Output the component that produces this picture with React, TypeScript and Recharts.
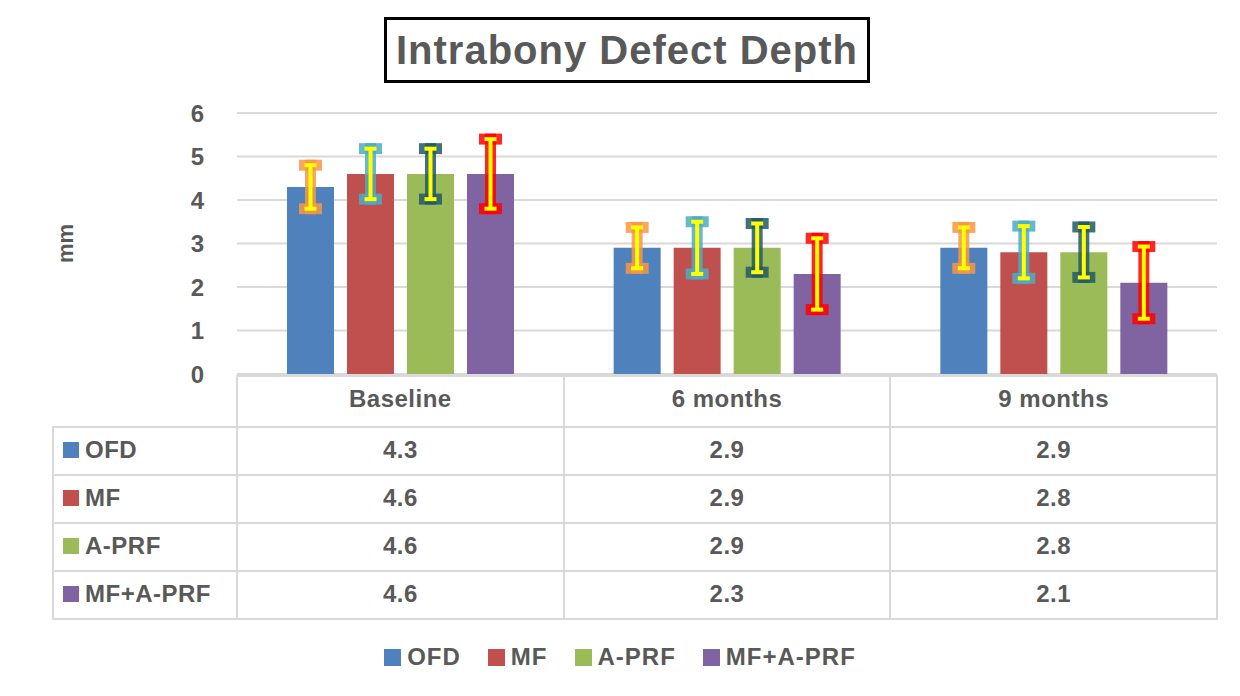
import React from 'react';
import { BarChart, Bar, XAxis, YAxis, CartesianGrid, ErrorBar, Legend } from 'recharts';

const categories = ['Baseline', '6 months', '9 months'];
const seriesNames = ['OFD', 'MF', 'A-PRF', 'MF+A-PRF'];
const ofd = [4.3, 2.9, 2.9];
const mf = [4.6, 2.9, 2.8];
const aprf = [4.6, 2.9, 2.8];
const mfAprf = [4.6, 2.3, 2.1];
// error bar half-lengths
const ofdErr = [0.5, 0.47, 0.47];
const mfErr = [0.58, 0.6, 0.6];
const aprfErr = [0.58, 0.56, 0.58];
const mfAprfErr = [0.8, 0.82, 0.83];
const yTicks = [0, 1, 2, 3, 4, 5, 6];

const COLORS = ['#4f81bd', '#c0504d', '#9bbb59', '#8064a2'];
const GLOW = ['#f79646', '#4bacc6', '#215968', '#ff0000'];
const TEXT = '#595959';
const LINE = '#d9d9d9';
const FONT = "'Liberation Sans', Arial, sans-serif";

const values = [ofd, mf, aprf, mfAprf];
const errors = [ofdErr, mfErr, aprfErr, mfAprfErr];

const data = categories.map((name, c) => {
  const row: Record<string, any> = { name };
  values.forEach((v, s) => {
    row[`s${s}`] = v[c];
    row[`e${s}`] = errors[s][c];
  });
  return row;
});

// plot box in page pixels
const PLOT_LEFT = 237;
const PLOT_RIGHT = 1217;
const TABLE_LEFT = 52;
const HEADER_TOP = 375;
const ROW_TOPS = [426, 474, 522, 570];
const ROW_H = 48;
const TABLE_BOTTOM = 618;
const COL_W = (PLOT_RIGHT - PLOT_LEFT) / categories.length;

const labelStyle: React.CSSProperties = {
  fontFamily: FONT,
  fontWeight: 700,
  fontSize: 24,
  color: TEXT,
  letterSpacing: 0.5,
};

// keep series order (OFD, MF, A-PRF, MF+A-PRF) in the legend
function renderLegend() {
  return (
    <div style={{ display: 'flex', justifyContent: 'center', gap: 27 }}>
      {seriesNames.map((n, i) => (
        <div key={n} style={{ display: 'flex', alignItems: 'center', ...labelStyle, letterSpacing: 1 }}>
          <span style={{ width: 17, height: 17, background: COLORS[i], display: 'inline-block', marginRight: 6 }} />
          {n}
        </div>
      ))}
    </div>
  );
}

function DataTable() {
  const lines: React.ReactNode[] = [];
  // horizontal lines
  lines.push(<div key="h0" style={{ position: 'absolute', left: PLOT_LEFT, top: HEADER_TOP, width: PLOT_RIGHT - PLOT_LEFT, height: 2, background: LINE }} />);
  ROW_TOPS.concat([TABLE_BOTTOM]).forEach((y, i) => {
    lines.push(<div key={`h${i + 1}`} style={{ position: 'absolute', left: TABLE_LEFT, top: y, width: PLOT_RIGHT - TABLE_LEFT, height: 2, background: LINE }} />);
  });
  // vertical lines
  lines.push(<div key="v0" style={{ position: 'absolute', left: TABLE_LEFT, top: ROW_TOPS[0], width: 2, height: TABLE_BOTTOM - ROW_TOPS[0] + 2, background: LINE }} />);
  for (let c = 0; c <= categories.length; c++) {
    const x = Math.round(PLOT_LEFT + c * COL_W) - 1;
    lines.push(<div key={`v${c + 1}`} style={{ position: 'absolute', left: x, top: HEADER_TOP, width: 2, height: TABLE_BOTTOM - HEADER_TOP + 2, background: LINE }} />);
  }

  const cells: React.ReactNode[] = [];
  seriesNames.forEach((n, s) => {
    const top = ROW_TOPS[s];
    cells.push(
      <div key={`l${s}`} style={{ position: 'absolute', left: TABLE_LEFT + 11, top, height: ROW_H, display: 'flex', alignItems: 'center', ...labelStyle }}>
        <span style={{ width: 16, height: 16, background: COLORS[s], display: 'inline-block', marginRight: 6 }} />
        {n}
      </div>
    );
    values[s].forEach((v, c) => {
      cells.push(
        <div key={`c${s}-${c}`} style={{ position: 'absolute', left: PLOT_LEFT + c * COL_W, top, width: COL_W, height: ROW_H, display: 'flex', alignItems: 'center', justifyContent: 'center', ...labelStyle }}>
          {v.toFixed(1)}
        </div>
      );
    });
  });

  return (
    <>
      {lines}
      {cells}
    </>
  );
}

export default function App() {
  return (
    <div style={{ position: 'absolute', left: 0, top: 0, width: 1240, height: 696, background: '#fff', fontFamily: FONT }}>
      <div
        style={{
          position: 'absolute', left: 384, top: 17, width: 486, height: 66, boxSizing: 'border-box',
          border: '3px solid #000', display: 'flex', alignItems: 'center', justifyContent: 'center',
          fontFamily: FONT, fontWeight: 700, fontSize: 40, color: TEXT, letterSpacing: 1,
        }}
      >
        Intrabony Defect Depth
      </div>
      <DataTable />
      <div style={{ position: 'absolute', left: 0, top: 0 }}>
        <BarChart
          width={1240}
          height={696}
          data={data}
          margin={{ top: 113, right: 23, bottom: 272, left: 177 }}
          barGap={13}
          barCategoryGap={50}
        >
          <CartesianGrid vertical={false} stroke={LINE} strokeWidth={2} />
          <XAxis
            dataKey="name"
            height={50}
            axisLine={false}
            tickLine={false}
            tickSize={0}
            tickMargin={16}
            tick={{ fill: TEXT, fontSize: 24, fontWeight: 700, fontFamily: FONT, letterSpacing: 0.5 }}
          />
          <YAxis
            width={60}
            domain={[0, 6]}
            ticks={yTicks}
            axisLine={false}
            tickLine={false}
            tickSize={0}
            tickMargin={33}
            tick={{ fill: TEXT, fontSize: 24, fontWeight: 700, fontFamily: FONT }}
            label={{ value: 'mm', angle: -90, position: 'insideLeft', offset: -112, textAnchor: 'middle', fill: TEXT, fontSize: 22, fontWeight: 700, fontFamily: FONT }}
          />
          <Legend
            verticalAlign="middle"
            align="center"
            layout="horizontal"
            content={renderLegend}
            wrapperStyle={{ top: 643, left: 0, width: 1240 }}
          />
          {seriesNames.map((n, s) => (
            <Bar key={n} dataKey={`s${s}`} name={n} fill={COLORS[s]} isAnimationActive={false}>
              <ErrorBar dataKey={`e${s}`} width={6} stroke={GLOW[s]} strokeWidth={11} strokeOpacity={0.85} strokeLinecap="square" isAnimationActive={false} />
              <ErrorBar dataKey={`e${s}`} width={6} stroke="#ffff00" strokeWidth={4} isAnimationActive={false} />
            </Bar>
          ))}
        </BarChart>
      </div>
    </div>
  );
}
